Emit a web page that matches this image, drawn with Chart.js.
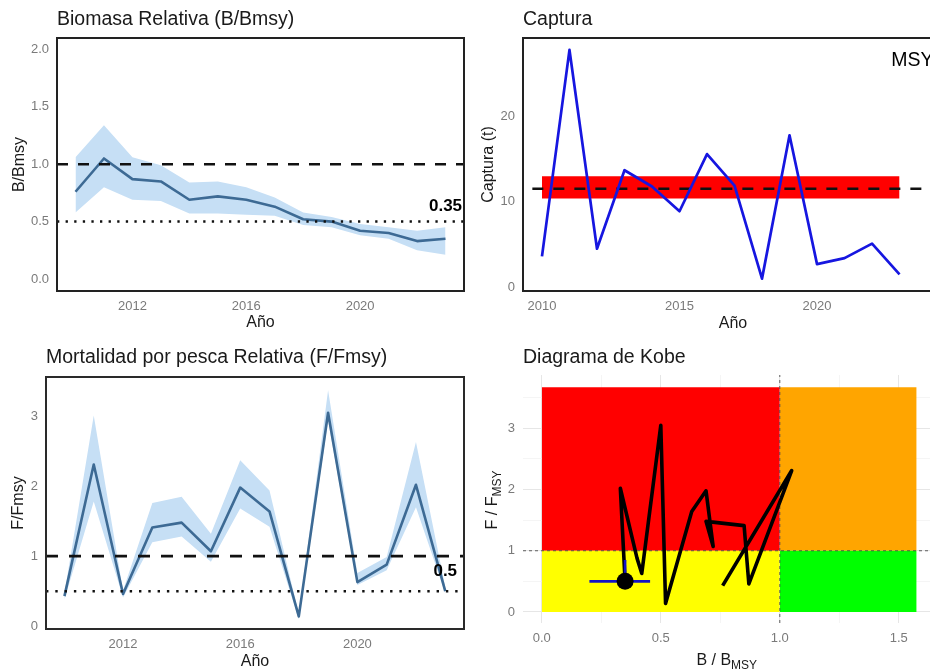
<!DOCTYPE html>
<html>
<head>
<meta charset="utf-8">
<title>Evaluación de stock</title>
<script src="https://cdn.jsdelivr.net/npm/chart.js@4.4.1/dist/chart.umd.min.js"></script>
<style>
  html, body { margin: 0; padding: 0; background: #fff; width: 930px; height: 671px; overflow: hidden; }
  .panel { position: absolute; }
</style>
</head>
<body>
<div class="panel" style="left:0;top:0;width:470px;height:335px"><canvas id="bioChart"></canvas></div>
<div class="panel" style="left:465px;top:0;width:485px;height:335px"><canvas id="catchChart"></canvas></div>
<div class="panel" style="left:0;top:335px;width:470px;height:336px"><canvas id="fChart"></canvas></div>
<div class="panel" style="left:465px;top:335px;width:478px;height:336px"><canvas id="kobeChart"></canvas></div>
<script>
// Data
const years = [2010, 2011, 2012, 2013, 2014, 2015, 2016, 2017, 2018, 2019, 2020, 2021, 2022, 2023];

const biomass     = [0.76, 1.05, 0.87, 0.85, 0.69, 0.72, 0.69, 0.63, 0.52, 0.50, 0.42, 0.40, 0.33, 0.35];
const biomassLow  = [0.58, 0.80, 0.69, 0.68, 0.57, 0.57, 0.56, 0.55, 0.47, 0.45, 0.38, 0.35, 0.25, 0.21];
const biomassHigh = [1.06, 1.34, 1.06, 0.99, 0.84, 0.85, 0.80, 0.71, 0.58, 0.54, 0.48, 0.45, 0.42, 0.45];

const catchT = [3.6, 27.8, 4.5, 13.7, 11.8, 8.9, 15.6, 11.9, 1.0, 17.8, 2.7, 3.4, 5.1, 1.5];
const msy = 11.54;
const msyRange = [10.4, 13.0];

const fRatio = [0.43, 2.31, 0.46, 1.41, 1.48, 1.07, 1.98, 1.64, 0.14, 3.05, 0.63, 0.88, 2.02, 0.50];
const fLow   = [0.38, 1.78, 0.41, 1.20, 1.28, 0.92, 1.68, 1.42, 0.10, 2.94, 0.59, 0.80, 1.70, 0.47];
const fHigh  = [0.47, 3.01, 0.51, 1.76, 1.85, 1.32, 2.37, 1.94, 0.17, 3.37, 0.76, 0.99, 2.63, 0.56];

// last-year uncertainty shown in the Kobe plot
const bioLastCI = [0.20, 0.455];
const fLastCI = [0.40, 0.85];

// reference points and Kobe zone limits
const bTarget = 1.0, bLimit = 0.5;
const fTarget = 1.0, fLimit = 0.5;
const kobeBMax = 1.575, kobeFMax = 3.67;

// tick labels
const yearTicksA = [2012, 2016, 2020];
const yearTicksB = [2010, 2015, 2020];
const bioTicks = [0, 0.5, 1.0, 1.5, 2.0];
const catchTicks = [0, 10, 20];
const fTicks = [0, 1, 2, 3];
const kobeBTicks = [0, 0.25, 0.5, 0.75, 1.0, 1.25, 1.5];
const kobeFTicks = [0, 0.5, 1, 1.5, 2, 2.5, 3, 3.5];

// styles
const FONT = "'Liberation Sans', Arial, sans-serif";
const TXT = '#1a1a1a';
const TICK = '#7a7a7a';
const RIBBON = '#c6dff5';
const LINE = '#3d6a94';

Chart.defaults.font.family = FONT;
Chart.defaults.animation = false;
Chart.defaults.events = [];
Chart.defaults.plugins.legend.display = false;
Chart.defaults.plugins.tooltip.enabled = false;

const pts = (xs, ys) => xs.map((x, i) => ({ x: x, y: ys[i] }));
const fixedTicks = values => scale => { scale.ticks = values.map(v => ({ value: v })); };
const fmtValue = v => String(Math.round(v * 100) / 100);

// box around the plotting area
const panelBorder = {
    id: 'panelBorder',
    afterDatasetsDraw(chart, args, opts) {
        if (!opts.color) return;
        const { ctx, chartArea: a } = chart;
        ctx.save();
        ctx.strokeStyle = opts.color;
        ctx.lineWidth = opts.width;
        ctx.strokeRect(a.left, a.top, a.right - a.left, a.bottom - a.top);
        ctx.restore();
    }
};

// text placed at data coordinates
const valueLabels = {
    id: 'valueLabels',
    afterDatasetsDraw(chart, args, opts) {
        const items = opts.items || [];
        const { ctx, scales } = chart;
        ctx.save();
        items.forEach(it => {
            ctx.font = it.font;
            ctx.fillStyle = it.color || '#000';
            ctx.textAlign = it.align || 'center';
            ctx.textBaseline = 'middle';
            ctx.fillText(it.text, scales.x.getPixelForValue(it.x), scales.y.getPixelForValue(it.y));
        });
        ctx.restore();
    }
};

// axis title with a subscript, centred on (cx, cy)
function drawSubLabel(ctx, main, sub, cx, cy, rot) {
    ctx.save();
    ctx.translate(cx, cy);
    ctx.rotate(rot);
    ctx.fillStyle = TXT;
    ctx.textAlign = 'left';
    ctx.textBaseline = 'alphabetic';
    ctx.font = '16px ' + FONT;
    const w1 = ctx.measureText(main).width;
    ctx.font = '12px ' + FONT;
    const w2 = ctx.measureText(sub).width;
    const x0 = -(w1 + w2) / 2;
    ctx.font = '16px ' + FONT;
    ctx.fillText(main, x0, 5.7);
    ctx.font = '12px ' + FONT;
    ctx.fillText(sub, x0 + w1, 10);
    ctx.restore();
}

const kobeTitles = {
    id: 'kobeTitles',
    afterDraw(chart) {
        const { ctx, chartArea: a } = chart;
        drawSubLabel(ctx, 'B / B', 'MSY', (a.left + a.right) / 2 - 2, 324, 0);
        drawSubLabel(ctx, 'F / F', 'MSY', 26, (a.top + a.bottom) / 2 + 1, -Math.PI / 2);
    }
};

function plainX(min, max, ticks, height, titlePad) {
    return {
        type: 'linear', min: min, max: max,
        afterBuildTicks: fixedTicks(ticks),
        afterFit: s => { s.height = height; },
        grid: { display: false, drawTicks: false },
        border: { display: false },
        ticks: { padding: 8, color: TICK, font: { size: 13 }, callback: v => String(v) },
        title: { display: true, text: 'Año', color: TXT, font: { size: 16 }, padding: { top: 0, bottom: titlePad } }
    };
}

function plainY(min, max, ticks, width, text, titlePad, fmt) {
    return {
        type: 'linear', min: min, max: max,
        afterBuildTicks: fixedTicks(ticks),
        afterFit: s => { s.width = width; },
        grid: { display: false, drawTicks: false },
        border: { display: false },
        ticks: { padding: 8, color: TICK, font: { size: 13 }, callback: fmt },
        title: { display: true, text: text, color: TXT, font: { size: 16 }, padding: { top: titlePad, bottom: 0 } }
    };
}

function panelTitle(text, top, bottom) {
    return {
        display: true, text: text, align: 'start', fullSize: false,
        color: TXT, font: { size: 19.5, weight: 'normal' },
        padding: { top: top, bottom: bottom }
    };
}

function refLine(x0, x1, y, dash, width, order) {
    return {
        data: [{ x: x0, y: y }, { x: x1, y: y }],
        borderColor: '#111', borderWidth: width, borderDash: dash,
        pointRadius: 0, fill: false, order: order
    };
}

// Biomasa relativa
const bioX = [2009.35, 2023.65];
new Chart(document.getElementById('bioChart'), {
    type: 'line',
    data: {
        datasets: [
            { data: pts(years, biomassLow), borderWidth: 0, pointRadius: 0, fill: false, order: 3 },
            { data: pts(years, biomassHigh), borderWidth: 0, pointRadius: 0, fill: '-1', backgroundColor: RIBBON, order: 3 },
            { data: pts(years, biomass), borderColor: LINE, borderWidth: 2.6, borderJoinStyle: 'round', pointRadius: 0, fill: false, order: 2 },
            refLine(bioX[0], bioX[1], bTarget, [11, 10], 2.6, 1),
            refLine(bioX[0], bioX[1], bLimit, [2.3, 6.3], 2.5, 1)
        ]
    },
    options: {
        responsive: true, maintainAspectRatio: false,
        layout: { padding: { left: 0, right: 6, top: 0, bottom: 0 } },
        scales: {
            x: plainX(bioX[0], bioX[1], yearTicksA, 44, 2.4),
            y: plainY(-0.105, 2.1, bioTicks, 57, 'B/Bmsy', 10.4, v => v.toFixed(1))
        },
        plugins: {
            title: panelTitle('Biomasa Relativa (B/Bmsy)', 8.3, 6.3),
            panelBorder: { color: '#222', width: 2 },
            valueLabels: { items: [
                { x: years[years.length - 1], y: biomass[biomass.length - 1] + 0.28,
                  text: fmtValue(biomass[biomass.length - 1]), font: 'bold 17px ' + FONT }
            ] }
        }
    },
    plugins: [panelBorder, valueLabels]
});

// Captura
const catchX = [2009.31, 2024.58];
new Chart(document.getElementById('catchChart'), {
    type: 'line',
    data: {
        datasets: [
            { data: pts([years[0], years[years.length - 1]], [msyRange[0], msyRange[0]]), borderWidth: 0, pointRadius: 0, fill: false, order: 3 },
            { data: pts([years[0], years[years.length - 1]], [msyRange[1], msyRange[1]]), borderWidth: 0, pointRadius: 0, fill: '-1', backgroundColor: '#ff0000', order: 3 },
            refLine(2009.65, 2023.8, msy, [11, 10], 2.6, 2),
            { data: pts(years, catchT), borderColor: '#1616e0', borderWidth: 2.7, borderJoinStyle: 'round', pointRadius: 0, fill: false, order: 1 }
        ]
    },
    options: {
        responsive: true, maintainAspectRatio: false,
        layout: { padding: { left: 0, right: 7, top: 0, bottom: 0 } },
        scales: {
            x: plainX(catchX[0], catchX[1], yearTicksB, 44, 2),
            y: plainY(-0.45, 29.2, catchTicks, 58, 'Captura (t)', 14.4, v => String(v))
        },
        plugins: {
            title: panelTitle('Captura', 8.3, 6.3),
            panelBorder: { color: '#222', width: 2 },
            valueLabels: { items: [
                { x: 2022.7, y: 26.5, text: 'MSY', font: '19.5px ' + FONT, align: 'left' }
            ] }
        }
    },
    plugins: [panelBorder, valueLabels]
});

// Mortalidad por pesca relativa
const fX = [2009.37, 2023.64];
new Chart(document.getElementById('fChart'), {
    type: 'line',
    data: {
        datasets: [
            { data: pts(years, fLow), borderWidth: 0, pointRadius: 0, fill: false, order: 3 },
            { data: pts(years, fHigh), borderWidth: 0, pointRadius: 0, fill: '-1', backgroundColor: RIBBON, order: 3 },
            { data: pts(years, fRatio), borderColor: LINE, borderWidth: 2.6, borderJoinStyle: 'round', pointRadius: 0, fill: false, order: 2 },
            refLine(fX[0], fX[1], fTarget, [12, 11], 2.7, 1),
            refLine(fX[0], fX[1], fLimit, [2.4, 6.9], 2.5, 1)
        ]
    },
    options: {
        responsive: true, maintainAspectRatio: false,
        layout: { padding: { left: 0, right: 6, top: 0, bottom: 0 } },
        scales: {
            x: plainX(fX[0], fX[1], yearTicksA, 42, 0),
            y: plainY(-0.04, 3.56, fTicks, 46, 'F/Fmsy', 9.4, v => String(v))
        },
        plugins: {
            title: panelTitle('Mortalidad por pesca Relativa (F/Fmsy)', 11.3, 7.3),
            panelBorder: { color: '#2a2a2a', width: 2 },
            valueLabels: { items: [
                { x: years[years.length - 1], y: fRatio[fRatio.length - 1] + 0.28,
                  text: fmtValue(fRatio[fRatio.length - 1]), font: 'bold 17px ' + FONT }
            ] }
        }
    },
    plugins: [panelBorder, valueLabels]
});

// Diagrama de Kobe
const kobeX = [-0.079, 1.65];
const kobeY = [-0.18, 3.87];
const last = years.length - 1;
const isHalf = v => Math.abs(v * 2 - Math.round(v * 2)) < 1e-6;
const isWhole = v => Math.abs(v - Math.round(v)) < 1e-6;

function zone(x0, x1, y, color, fill) {
    return {
        data: [{ x: x0, y: y }, { x: x1, y: y }],
        borderWidth: 0, pointRadius: 0, fill: fill, backgroundColor: color, order: 6
    };
}

function segment(p0, p1, color, width, dash, order) {
    return {
        data: [p0, p1], borderColor: color, borderWidth: width, borderDash: dash || [],
        pointRadius: 0, fill: false, order: order
    };
}

new Chart(document.getElementById('kobeChart'), {
    type: 'line',
    data: {
        datasets: [
            zone(0, bTarget, fTarget, '#ffff00', 'origin'),
            zone(bTarget, kobeBMax, fTarget, '#00ff00', 'origin'),
            zone(0, bTarget, kobeFMax, '#ff0000', 0),
            zone(bTarget, kobeBMax, kobeFMax, '#ffa500', 1),
            segment({ x: bTarget, y: kobeY[0] }, { x: bTarget, y: kobeY[1] }, 'rgba(70,70,70,0.85)', 1, [3, 3], 5),
            segment({ x: kobeX[0], y: fTarget }, { x: kobeX[1], y: fTarget }, 'rgba(70,70,70,0.85)', 1, [3, 3], 5),
            { data: pts(biomass, fRatio), borderColor: '#000', borderWidth: 3.6, borderJoinStyle: 'round',
              pointRadius: 0, fill: false, order: 4 },
            segment({ x: bioLastCI[0], y: fRatio[last] }, { x: bioLastCI[1], y: fRatio[last] }, '#1414c8', 2.6, null, 3),
            segment({ x: biomass[last], y: fLastCI[0] }, { x: biomass[last], y: fLastCI[1] }, '#1414c8', 2.6, null, 3),
            { type: 'scatter', data: [{ x: biomass[last], y: fRatio[last] }], pointRadius: 8.5,
              pointBackgroundColor: '#000', pointBorderWidth: 0, order: 2 }
        ]
    },
    options: {
        responsive: true, maintainAspectRatio: false,
        layout: { padding: { left: 0, right: 1, top: 0, bottom: 0 } },
        scales: {
            x: {
                type: 'linear', min: kobeX[0], max: kobeX[1],
                afterBuildTicks: fixedTicks(kobeBTicks),
                afterFit: s => { s.height = 48; },
                grid: {
                    drawTicks: false,
                    color: c => isHalf(c.tick.value) ? '#e6e6e6' : '#f1f1f1',
                    lineWidth: c => isHalf(c.tick.value) ? 1 : 0.7
                },
                border: { display: false },
                ticks: { padding: 8, color: TICK, font: { size: 13 },
                         callback: v => isHalf(v) ? v.toFixed(1) : '' }
            },
            y: {
                type: 'linear', min: kobeY[0], max: kobeY[1],
                afterBuildTicks: fixedTicks(kobeFTicks),
                afterFit: s => { s.width = 58; },
                grid: {
                    drawTicks: false,
                    color: c => isWhole(c.tick.value) ? '#e6e6e6' : '#f1f1f1',
                    lineWidth: c => isWhole(c.tick.value) ? 1 : 0.7
                },
                border: { display: false },
                ticks: { padding: 8, color: TICK, font: { size: 13 },
                         callback: v => isWhole(v) ? String(v) : '' }
            }
        },
        plugins: {
            title: panelTitle('Diagrama de Kobe', 11.3, 5.3)
        }
    },
    plugins: [kobeTitles]
});
</script>
</body>
</html>
